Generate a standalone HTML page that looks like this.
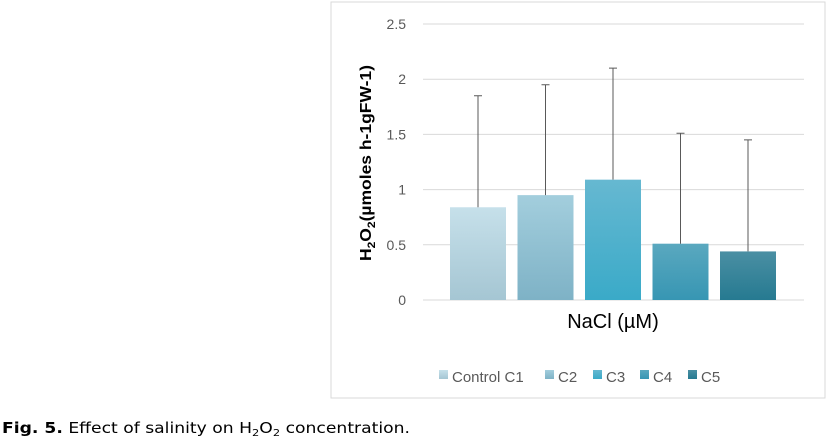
<!DOCTYPE html>
<html><head><meta charset="utf-8"><style>
body{margin:0;width:833px;height:441px;background:#fff;overflow:hidden;font-family:"Liberation Sans","DejaVu Sans",sans-serif;}
</style></head><body>
<svg width="833" height="441">
<defs>
<linearGradient id="g0" x1="0" y1="0" x2="0" y2="1"><stop offset="0" stop-color="#c6e0ea"/><stop offset="1" stop-color="#a5c6d3"/></linearGradient>
<linearGradient id="g1" x1="0" y1="0" x2="0" y2="1"><stop offset="0" stop-color="#a3cedd"/><stop offset="1" stop-color="#7eb2c6"/></linearGradient>
<linearGradient id="g2" x1="0" y1="0" x2="0" y2="1"><stop offset="0" stop-color="#66b8d1"/><stop offset="1" stop-color="#3aaac8"/></linearGradient>
<linearGradient id="g3" x1="0" y1="0" x2="0" y2="1"><stop offset="0" stop-color="#5aa8bf"/><stop offset="1" stop-color="#3796b3"/></linearGradient>
<linearGradient id="g4" x1="0" y1="0" x2="0" y2="1"><stop offset="0" stop-color="#4a8fa3"/><stop offset="1" stop-color="#267a91"/></linearGradient>
</defs>
<rect x="331" y="2" width="494" height="396" fill="#fff" stroke="#d9d9d9"/>
<g id="grid"></g><g id="bars"></g><g id="legend"></g>
<text x="371" y="163" transform="rotate(-90 371 163)" text-anchor="middle" font-size="16" font-weight="bold" fill="#000" textLength="196" lengthAdjust="spacingAndGlyphs">H<tspan font-size="11" dy="4">2</tspan><tspan dy="-4">O</tspan><tspan font-size="11" dy="4">2</tspan><tspan dy="-4">(µmoles h-1gFW-1)</tspan></text>
<text x="613" y="328" text-anchor="middle" font-size="20" fill="#000">NaCl (µM)</text>
<text x="2" y="433" font-size="15" fill="#000" font-family="DejaVu Sans, sans-serif" textLength="408" lengthAdjust="spacingAndGlyphs"><tspan font-weight="bold">Fig. 5.</tspan> Effect of salinity on H<tspan font-size="10" dy="3">2</tspan><tspan dy="-3">O</tspan><tspan font-size="10" dy="3">2</tspan><tspan dy="-3"> concentration.</tspan></text>
</svg>
<script>
const categories=["Control C1","C2","C3","C4","C5"];
const values=[0.84,0.95,1.09,0.51,0.44];
const errorTops=[1.85,1.95,2.1,1.51,1.45];
const ticks=[0,0.5,1,1.5,2,2.5];
const NS="http://www.w3.org/2000/svg";
const y=v=>300-v*110.4;
const x=i=>450+i*67.5;
const bw=56;
function mk(t,a,p){const e=document.createElementNS(NS,t);for(const k in a)e.setAttribute(k,a[k]);p.appendChild(e);return e;}
const grid=document.getElementById('grid');
ticks.forEach(t=>{
 const l=mk('line',{x1:423,x2:804,y1:y(t),y2:y(t),stroke:'#d9d9d9'},grid);
 
 
 const tx=mk('text',{x:406,y:y(t)+5,'text-anchor':'end','font-size':14,fill:'#595959'},grid);
 tx.textContent=String(t);
 
 
});
const bars=document.getElementById('bars');
values.forEach((v,i)=>{
 const r=mk('rect',{x:x(i),y:y(v),width:bw,height:y(0)-y(v),fill:'url(#g'+i+')'},bars);
 
 
 const cx=x(i)+bw/2;
 const e=mk('path',{d:`M${cx},${y(v)}V${y(errorTops[i])}M${cx-4},${y(errorTops[i])}H${cx+4}`,stroke:'#595959','stroke-width':1,fill:'none'},bars);
 
 
});
const leg=document.getElementById('legend');
const lx=[439,545,593,640,688];
categories.forEach((c,i)=>{
 const s=mk('rect',{x:lx[i],y:370,width:9,height:9,fill:'url(#g'+i+')'},leg);
 
 
 const t=mk('text',{x:lx[i]+13,y:382,'font-size':15,fill:'#595959'},leg);
 t.textContent=c;
 
 
});
</script>
</body></html>
